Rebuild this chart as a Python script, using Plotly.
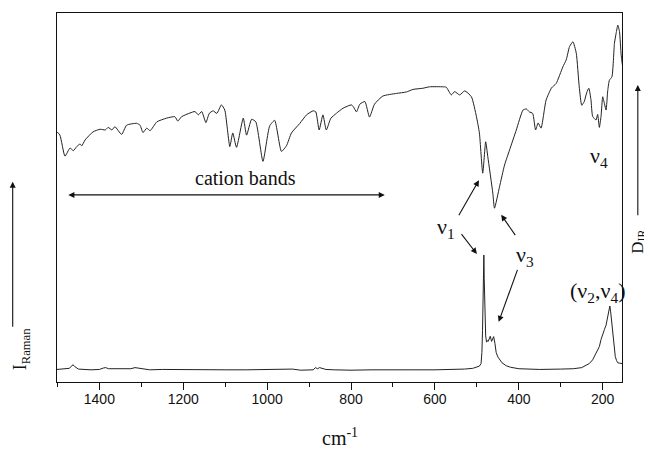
import plotly.graph_objects as go

# ---------------- data (wavenumber in cm^-1, arbitrary intensity) ----------------
ir_wn = [1501, 1494, 1482, 1470, 1462, 1454, 1446, 1442, 1434, 1415,
         1398, 1386, 1379, 1370, 1363, 1347, 1335, 1311, 1303, 1296,
         1287, 1279, 1263, 1240, 1220, 1213, 1204, 1184, 1172, 1164,
         1156, 1146, 1138, 1129, 1120, 1109, 1101, 1089, 1082, 1073,
         1057, 1049, 1037, 1027, 1010, 994, 982, 966, 954, 942,
         922, 906, 890, 884, 876, 867, 859, 848, 835, 819,
         799, 794, 787, 779, 767, 756, 744, 724, 692, 668,
         652, 629, 613, 581, 573, 561, 553, 541, 529, 513,
         501, 494, 486, 479, 474, 462, 458, 446, 434, 422,
         406, 390, 382, 375, 367, 360, 354, 347, 335, 322,
         311, 295, 287, 279, 271, 263, 256, 250, 244, 238,
         233, 228, 224, 216, 212, 208, 204, 200, 196, 192,
         188, 184, 178, 172, 168, 164, 160, 156, 153]
ir_val = [67.8, 66.9, 61.2, 63.4, 62.7, 63.8, 64.5, 64.0, 65.6, 67.8,
          68.5, 68.3, 69.0, 68.3, 69.2, 67.1, 69.6, 70.1, 69.6, 67.6,
          68.8, 68.1, 70.5, 71.5, 71.9, 70.7, 71.9, 72.9, 73.3, 72.4,
          73.3, 70.3, 72.8, 73.5, 72.8, 75.1, 73.7, 63.8, 67.5, 63.6,
          71.5, 66.9, 71.2, 70.5, 59.8, 69.4, 70.9, 62.5, 64.0, 67.5,
          70.1, 72.4, 73.5, 73.2, 68.3, 72.4, 68.3, 71.5, 72.8, 74.2,
          75.1, 74.5, 73.2, 75.3, 76.0, 71.8, 75.3, 77.5, 78.2, 78.6,
          79.3, 79.6, 80.0, 80.0, 79.9, 77.8, 78.7, 77.8, 78.9, 77.3,
          71.9, 67.5, 56.6, 65.1, 61.1, 51.2, 47.1, 52.9, 58.8, 62.9,
          68.3, 73.7, 74.0, 73.2, 72.8, 68.3, 70.2, 68.8, 76.4, 79.7,
          80.9, 85.4, 87.3, 90.9, 92.2, 89.1, 80.0, 75.0, 76.0, 78.5,
          79.6, 76.5, 72.0, 71.0, 72.5, 69.0, 72.0, 77.3, 75.5, 73.7,
          79.0, 81.8, 82.7, 91.8, 94.5, 96.7, 95.0, 88.6, 85.9]

raman_wn = [1501, 1485, 1472, 1466, 1463, 1459, 1450, 1420, 1400, 1390,
            1385, 1378, 1350, 1325, 1315, 1308, 1300, 1280, 1250, 1200,
            1150, 1100, 1050, 1000, 950, 940, 920, 890, 885, 880,
            875, 868, 860, 840, 800, 750, 700, 650, 600, 560,
            530, 510, 500, 494, 490, 488, 486.5, 485, 484, 483.3,
            482.5, 481, 479, 477, 475, 473, 470, 468, 465, 463,
            460, 457, 454, 450, 446, 440, 430, 420, 400, 350,
            300, 270, 250, 240, 232, 224, 216, 208, 204, 200,
            196, 192, 189, 186, 183, 181, 179, 177, 175, 172,
            170, 167, 164, 160, 156, 153]
raman_val = [3.4, 3.5, 3.7, 4.3, 4.7, 4.2, 3.5, 3.3, 3.4, 3.8,
             3.9, 3.6, 3.5, 3.6, 3.9, 3.8, 3.5, 3.3, 3.4, 3.3,
             3.2, 3.3, 3.3, 3.3, 3.4, 3.5, 3.2, 3.3, 3.9, 3.6,
             3.9, 3.7, 3.4, 3.3, 3.2, 3.3, 3.4, 3.3, 3.3, 3.3,
             3.5, 3.7, 4.0, 4.3, 5.0, 8.0, 14.0, 24.0, 31.0, 34.4,
             28.0, 18.0, 12.5, 10.8, 11.2, 11.0, 12.2, 12.4, 11.0, 11.4,
             12.3, 10.5, 8.0, 6.8, 6.0, 5.2, 4.4, 4.0, 3.6, 3.4,
             3.5, 3.6, 3.9, 4.4, 5.0, 6.0, 7.6, 9.6, 11.5, 13.2,
             14.2, 15.4, 17.5, 19.0, 20.6, 19.0, 16.5, 13.5, 11.0, 8.5,
             6.9, 5.8, 5.2, 5.1, 5.1, 5.0]

x_ticks = [1400, 1200, 1000, 800, 600, 400, 200]

# ---------------- figure ----------------
fig = go.Figure()
fig.add_trace(go.Scatter(x=ir_wn, y=ir_val, mode="lines",
                         line=dict(color="#222222", width=1, shape="spline", smoothing=0.5),
                         showlegend=False, hoverinfo="skip"))
fig.add_trace(go.Scatter(x=raman_wn, y=raman_val, mode="lines",
                         line=dict(color="#222222", width=1),
                         showlegend=False, hoverinfo="skip"))

SERIF = "Liberation Serif"
ann = []


def arrow(xh, yh, xt, yt, both=False):
    ann.append(dict(x=xh, y=yh, ax=xt, ay=yt, xref="x", yref="y", axref="x", ayref="y",
                    text="", showarrow=True, arrowhead=2, startarrowhead=2,
                    arrowsize=1.1, startarrowsize=1.1, arrowwidth=1.1, arrowcolor="#111111",
                    arrowside="end+start" if both else "end"))


def label(x, y, txt, size=22):
    ann.append(dict(x=x, y=y, xref="x", yref="y", text=txt, showarrow=False,
                    font=dict(family=SERIF, size=size, color="#111111"),
                    xanchor="center", yanchor="middle"))


label(1051, 55.3, "cation bands", 20)
arrow(1474, 50.7, 716, 50.7, both=True)
label(573, 41.7, "ν<sub>1</sub>")
arrow(495, 54.7, 545, 44.8)
arrow(500, 34.7, 539.5, 40.5)
label(386, 34.1, "ν<sub>3</sub>")
arrow(442, 45.3, 406, 39.4)
arrow(448, 16.3, 402, 30.8)
label(208, 61, "ν<sub>4</sub>")
label(213, 24.5, "(ν<sub>2</sub>,ν<sub>4</sub>)")

# side labels and arrows (outside plot area)
ann.append(dict(x=-0.0637, y=8.9, xref="paper", yref="y", text="I<sub>Raman</sub>",
                textangle=-90, showarrow=False, xanchor="center", yanchor="middle",
                font=dict(family=SERIF, size=18, color="#111111")))
ann.append(dict(x=-0.0784, y=54.3, ax=-0.0784, ay=14.6, xref="x domain", yref="y",
                axref="x domain", ayref="y", text="", showarrow=True, arrowhead=2,
                arrowsize=1.1, arrowwidth=1.1, arrowcolor="#111111"))
ann.append(dict(x=1.0295, y=37.9, xref="paper", yref="y", text="D<sub>IR</sub>",
                textangle=-90, showarrow=False, xanchor="center", yanchor="middle",
                font=dict(family=SERIF, size=17, color="#111111")))
ann.append(dict(x=1.028, y=80.5, ax=1.028, ay=44.8, xref="x domain", yref="y",
                axref="x domain", ayref="y", text="", showarrow=True, arrowhead=2,
                arrowsize=1.1, arrowwidth=1.1, arrowcolor="#111111"))
ann.append(dict(x=0.5, y=-0.148, xref="paper", yref="paper", text="cm<sup>-1</sup>",
                showarrow=False, xanchor="center", yanchor="middle",
                font=dict(family=SERIF, size=20, color="#111111")))

# the page adds an 8px body margin, so the figure is offset by 8px
fig.update_layout(
    width=644, height=441,
    margin=dict(l=49, r=30, t=5, b=67),
    paper_bgcolor="white", plot_bgcolor="white",
    annotations=ann,
    xaxis=dict(range=[1501, 154], tickmode="array", tickvals=x_ticks,
               ticktext=[str(v) for v in x_ticks],
               ticks="outside", ticklen=7, tickwidth=1.2, tickcolor="#111111",
               showline=True, linecolor="#111111", linewidth=1.3, mirror=True,
               showgrid=False, zeroline=False, ticklabelstandoff=-3,
               tickfont=dict(family="Liberation Sans", size=14, color="#111111"),
               minor=dict(ticks="outside", ticklen=4, tickwidth=1.2, tickcolor="#111111",
                          tickmode="linear", tick0=100, dtick=200, showgrid=False)),
    yaxis=dict(range=[0, 100], showticklabels=False, ticks="",
               showline=True, linecolor="#111111", linewidth=1.3, mirror=True,
               showgrid=False, zeroline=False),
)

fig.write_html("out.html")
